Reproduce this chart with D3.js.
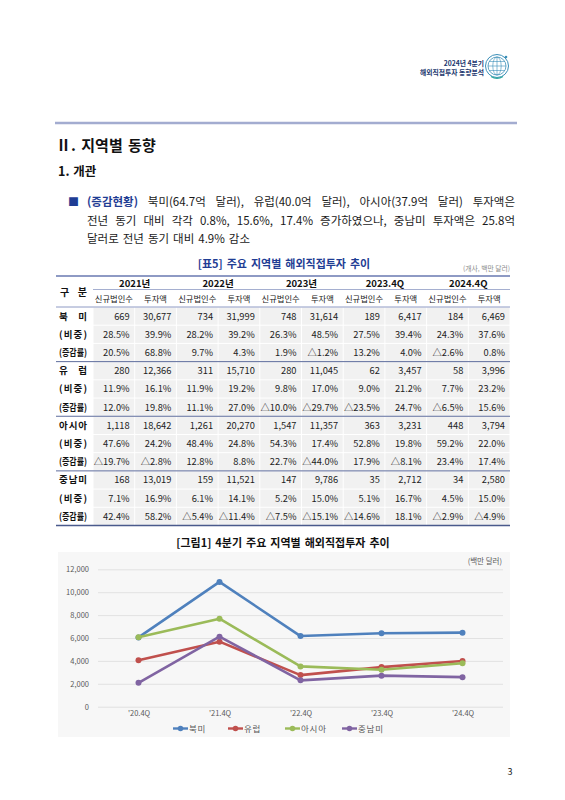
<!DOCTYPE html>
<html>
<head>
<meta charset="utf-8">
<script src="https://cdn.jsdelivr.net/npm/d3@7"></script>
<style>
  body { margin: 0; background: #fff; }
  svg { display: block; }
  text { font-family: "Noto Sans CJK KR", "Noto Sans", sans-serif; }
</style>
</head>
<body>
<svg id="page"></svg>
<script>
// ---- table data ----
var periods = ["2021년", "2022년", "2023년", "2023.4Q", "2024.4Q"];
var subHeads = ["신규법인수", "투자액"];
var regions = ["북미", "유럽", "아시아", "중남미"];

// 신규법인수 / 투자액 pairs per period
var countsNA = [669, 30677, 734, 31999, 748, 31614, 189, 6417, 184, 6469];
var countsEU = [280, 12366, 311, 15710, 280, 11045, 62, 3457, 58, 3996];
var countsAS = [1118, 18642, 1261, 20270, 1547, 11357, 363, 3231, 448, 3794];
var countsLA = [168, 13019, 159, 11521, 147, 9786, 35, 2712, 34, 2580];

var shareNA = [28.5, 39.9, 28.2, 39.2, 26.3, 48.5, 27.5, 39.4, 24.3, 37.6];
var shareEU = [11.9, 16.1, 11.9, 19.2, 9.8, 17.0, 9.0, 21.2, 7.7, 23.2];
var shareAS = [47.6, 24.2, 48.4, 24.8, 54.3, 17.4, 52.8, 19.8, 59.2, 22.0];
var shareLA = [7.1, 16.9, 6.1, 14.1, 5.2, 15.0, 5.1, 16.7, 4.5, 15.0];

var growthNA = [20.5, 68.8, 9.7, 4.3, 1.9, -1.2, 13.2, 4.0, -2.6, 0.8];
var growthEU = [12.0, 19.8, 11.1, 27.0, -10.0, -29.7, -23.5, 24.7, -6.5, 15.6];
var growthAS = [-19.7, -2.8, 12.8, 8.8, 22.7, -44.0, 17.9, -8.1, 23.4, 17.4];
var growthLA = [42.4, 58.2, -5.4, -11.4, -7.5, -15.1, -14.6, 18.1, -2.9, -4.9];

// ---- chart data (4Q 투자액, 백만 달러) ----
var quarters = ["'20.4Q", "'21.4Q", "'22.4Q", "'23.4Q", "'24.4Q"];
var seriesNames = ["북미", "유럽", "아시아", "중남미"];
var lineNA = [6050, 10900, 6170, 6417, 6469];
var lineEU = [4060, 5680, 2760, 3457, 3996];
var lineAS = [6060, 7690, 3520, 3231, 3794];
var lineLA = [2090, 6120, 2300, 2712, 2580];
var seriesColors = ["#4f81bd", "#c0504d", "#9bbb59", "#8064a2"];
var yTicks = [0, 2000, 4000, 6000, 8000, 10000, 12000];

var svg = d3.select("#page")
    .attr("width", 565)
    .attr("height", 800);

var navy = "#1f3d94";

// ---- page header ----
svg.append("text").attr("x", 484).attr("y", 65.5)
    .attr("text-anchor", "end").attr("font-size", 6.8).attr("font-weight", 700)
    .attr("fill", "#22376e").text("2024년  4분기");
svg.append("text").attr("x", 484).attr("y", 74.5)
    .attr("text-anchor", "end").attr("font-size", 6.8).attr("font-weight", 700)
    .attr("fill", "#22376e").text("해외직접투자  동향분석");

var logo = svg.append("g").attr("transform", "translate(497,66)");
logo.append("circle").attr("r", 11.5).attr("fill", "none").attr("stroke", "#3b8fb8").attr("stroke-width", 1);
logo.append("circle").attr("r", 9).attr("fill", "none").attr("stroke", "#3b8fb8").attr("stroke-width", 0.8);
logo.append("ellipse").attr("rx", 4.2).attr("ry", 9).attr("fill", "none").attr("stroke", "#3b8fb8").attr("stroke-width", 0.6);
logo.append("line").attr("y1", -9).attr("y2", 9).attr("stroke", "#3b8fb8").attr("stroke-width", 0.6);
[-4.5, 0, 4.5].forEach(function(d) {
  var hw = Math.sqrt(81 - d * d);
  logo.append("line").attr("x1", -hw).attr("x2", hw).attr("y1", d).attr("y2", d)
      .attr("stroke", "#3b8fb8").attr("stroke-width", 0.6);
});
logo.append("path").attr("d", "M-6,10.5 Q0,14 6,10.5").attr("fill", "none").attr("stroke", "#2fa7a0").attr("stroke-width", 1.4);
logo.append("circle").attr("cx", 9).attr("cy", -9).attr("r", 1.3).attr("fill", "#3b8fb8");

svg.append("line").attr("x1", 55).attr("x2", 517).attr("y1", 123).attr("y2", 123)
    .attr("stroke", "#a3acd0").attr("stroke-width", 2.5);

// ---- headings ----
svg.append("text").attr("x", 56).attr("y", 151)
    .attr("font-size", 15).attr("font-weight", 700).attr("fill", "#111")
    .attr("word-spacing", 2).text("Ⅱ. 지역별 동향");
svg.append("text").attr("x", 58).attr("y", 176)
    .attr("font-size", 12.5).attr("font-weight", 700).attr("fill", "#111")
    .attr("word-spacing", 1).text("1. 개관");

// ---- paragraph (justified by hand) ----
function justify(y, x0, x1, words, stretch) {
  var g = svg.append("g");
  var nodes = words.map(function(w) {
    return g.append("text").attr("y", y)
        .attr("font-size", 11.5)
        .attr("font-weight", w.b ? 700 : 400)
        .attr("fill", w.c || "#1a1a1a")
        .text(w.t);
  });
  var widths = nodes.map(function(n) { return n.node().getComputedTextLength(); });
  var gap = stretch ? (x1 - x0 - d3.sum(widths)) / (words.length - 1) : 4;
  var x = x0;
  nodes.forEach(function(n, i) { n.attr("x", x); x += widths[i] + gap; });
}
svg.append("text").attr("x", 68).attr("y", 206).attr("font-size", 11).attr("fill", navy).text("■");
function w(list) { return list.split(" ").map(function(t) { return {t: t}; }); }
justify(206, 87, 515, [{t: "(증감현황)", b: true, c: navy}].concat(
    w("북미(64.7억 달러), 유럽(40.0억 달러), 아시아(37.9억 달러) 투자액은")), true);
justify(224.5, 87, 515, w("전년 동기 대비 각각 0.8%, 15.6%, 17.4% 증가하였으나, 중남미 투자액은 25.8억"), true);
justify(243, 87, 515, w("달러로 전년 동기 대비 4.9% 감소"), false);

// ---- table ----
svg.append("text").attr("x", 284).attr("y", 268)
    .attr("text-anchor", "middle").attr("font-size", 11).attr("font-weight", 700)
    .attr("fill", navy).attr("word-spacing", 1.5).text("[표5] 주요 지역별 해외직접투자 추이");
svg.append("text").attr("x", 510).attr("y", 271)
    .attr("text-anchor", "end").attr("font-size", 6.8).attr("fill", "#8a8a8a")
    .text("(개사, 백만 달러)");

var counts = [countsNA, countsEU, countsAS, countsLA];
var shares = [shareNA, shareEU, shareAS, shareLA];
var growths = [growthNA, growthEU, growthAS, growthLA];

var fmtCount = d3.format(",");
function fmtShare(v) { return v.toFixed(1) + "%"; }
function fmtGrowth(v) { return (v < 0 ? "△" + (-v).toFixed(1) : v.toFixed(1)) + "%"; }

var tableRows = [];
regions.forEach(function(r, i) {
  tableRows.push({label: r, vals: counts[i], fmt: fmtCount, head: true});
  tableRows.push({label: "(비중)", vals: shares[i], fmt: fmtShare});
  tableRows.push({label: "(증감률)", vals: growths[i], fmt: fmtGrowth, squeeze: true});
});

var tLeft = 56, tRight = 510, labelRight = 93;
var colX = d3.scaleBand().domain(d3.range(10)).range([labelRight, tRight]);
var pairX = d3.scaleBand().domain(periods).range([labelRight, tRight]);
var rowY = d3.scaleBand().domain(d3.range(tableRows.length)).range([307, 525.5]);

var table = svg.append("g");

// body cell backgrounds
tableRows.forEach(function(row, r) {
  table.selectAll(null).data(row.vals).enter().append("rect")
      .attr("x", function(d, c) { return colX(c) + 0.5; })
      .attr("y", rowY(r) + 0.5)
      .attr("width", colX.bandwidth() - 1)
      .attr("height", rowY.bandwidth() - 1)
      .attr("fill", "#f1f1f1");
});

// header texts
table.selectAll(".yr").data(periods).enter().append("text")
    .attr("x", function(d) { return pairX(d) + pairX.bandwidth() / 2; })
    .attr("y", 286.5)
    .attr("text-anchor", "middle").attr("font-size", 9.5).attr("font-weight", 700)
    .attr("fill", "#111").text(function(d) { return d; });
table.selectAll(".sub").data(d3.range(10)).enter().append("text")
    .attr("x", function(c) { return colX(c) + colX.bandwidth() / 2; })
    .attr("y", 301.5)
    .attr("text-anchor", "middle").attr("font-size", 8.3)
    .attr("fill", "#222").text(function(c) { return subHeads[c % 2]; });
table.append("text").attr("x", 60).attr("y", 295.5)
    .attr("font-size", 10).attr("font-weight", 700).attr("fill", "#111")
    .attr("textLength", 27).attr("lengthAdjust", "spacing").text("구분");

// body texts
tableRows.forEach(function(row, r) {
  var cy = rowY(r) + rowY.bandwidth() / 2 + 3.4;
  table.append("text").attr("x", 59).attr("y", cy)
      .attr("font-size", 9.5).attr("font-weight", 700).attr("fill", "#111")
      .attr("textLength", 28)
      .attr("lengthAdjust", row.squeeze ? "spacingAndGlyphs" : "spacing")
      .text(row.label);
  table.selectAll(null).data(row.vals).enter().append("text")
      .attr("x", function(d, c) { return colX(c) + colX.bandwidth() - 5; })
      .attr("y", cy)
      .attr("text-anchor", "end").attr("font-size", 9.3).attr("fill", "#222")
      .text(function(d) { return row.fmt(d); });
});

// rules
table.append("line").attr("x1", tLeft).attr("x2", tRight).attr("y1", 276).attr("y2", 276)
    .attr("stroke", "#8e9ac4").attr("stroke-width", 2);
table.append("line").attr("x1", labelRight).attr("x2", tRight).attr("y1", 289.5).attr("y2", 289.5)
    .attr("stroke", "#8e9ac4").attr("stroke-width", 0.8);
table.append("line").attr("x1", tLeft).attr("x2", tRight).attr("y1", 307).attr("y2", 307)
    .attr("stroke", "#8e9ac4").attr("stroke-width", 1);
[3, 6, 9].forEach(function(r) {
  table.append("line").attr("x1", tLeft).attr("x2", tRight)
      .attr("y1", rowY(r)).attr("y2", rowY(r))
      .attr("stroke", "#5d6c9c").attr("stroke-width", 1);
});
table.append("line").attr("x1", tLeft).attr("x2", tRight).attr("y1", 525.5).attr("y2", 525.5)
    .attr("stroke", "#4a5a8c").attr("stroke-width", 1.5);

// ---- chart ----
svg.append("text").attr("x", 283).attr("y", 547)
    .attr("text-anchor", "middle").attr("font-size", 11).attr("font-weight", 700)
    .attr("fill", "#111").attr("word-spacing", 1.5).text("[그림1] 4분기 주요 지역별 해외직접투자 추이");

svg.append("rect").attr("x", 58).attr("y", 552).attr("width", 452).attr("height", 185)
    .attr("fill", "#f7f7f7");

var x = d3.scalePoint().domain(quarters).range([98, 503]).padding(0.5);
var y = d3.scaleLinear().domain([0, 12000]).range([706.7, 569.3]);

var yAxis = svg.append("g").attr("transform", "translate(98,0)")
    .call(d3.axisLeft(y).tickValues(yTicks).tickSize(-405).tickPadding(9).tickFormat(d3.format(",")));
yAxis.select(".domain").remove();
yAxis.selectAll(".tick line").attr("stroke", "#dcdcdc").attr("stroke-width", 0.8);
yAxis.selectAll(".tick text").attr("fill", "#595959").attr("font-size", 7.5)
    .attr("font-family", "\"Noto Sans CJK KR\", sans-serif");

var xAxis = svg.append("g").attr("transform", "translate(0,706.7)")
    .call(d3.axisBottom(x).tickSize(0).tickPadding(4));
xAxis.select(".domain").remove();
xAxis.selectAll(".tick text").attr("fill", "#595959").attr("font-size", 7.5)
    .attr("font-family", "\"Noto Sans CJK KR\", sans-serif");

svg.append("text").attr("x", 502).attr("y", 564)
    .attr("text-anchor", "end").attr("font-size", 7.5).attr("fill", "#595959")
    .text("(백만 달러)");

var seriesVals = [lineNA, lineEU, lineAS, lineLA];
var line = d3.line().x(function(d, i) { return x(quarters[i]); }).y(function(d) { return y(d); });

seriesVals.forEach(function(vals, s) {
  var g = svg.append("g");
  g.append("path").datum(vals).attr("d", line)
      .attr("fill", "none").attr("stroke", seriesColors[s]).attr("stroke-width", 2.6)
      .attr("stroke-linejoin", "round");
  g.selectAll("circle").data(vals).enter().append("circle")
      .attr("cx", function(d, i) { return x(quarters[i]); })
      .attr("cy", function(d) { return y(d); })
      .attr("r", 3).attr("fill", seriesColors[s]);
});

// legend
var legendX = [173, 228, 285, 342];
var legend = svg.selectAll(".lg").data(seriesNames).enter().append("g")
    .attr("transform", function(d, i) { return "translate(" + legendX[i] + ",728.5)"; });
legend.append("line").attr("x1", 0).attr("x2", 15)
    .attr("stroke", function(d, i) { return seriesColors[i]; }).attr("stroke-width", 2.4);
legend.append("circle").attr("cx", 7.5).attr("r", 2.8)
    .attr("fill", function(d, i) { return seriesColors[i]; });
legend.append("text").attr("x", 16).attr("y", 3)
    .attr("font-size", 8.5).attr("fill", "#595959").attr("letter-spacing", 0.8)
    .text(function(d) { return d; });

// page number
svg.append("text").attr("x", 510).attr("y", 775).attr("text-anchor", "middle")
    .attr("font-size", 9).attr("fill", "#222").text("3");
</script>
</body>
</html>
